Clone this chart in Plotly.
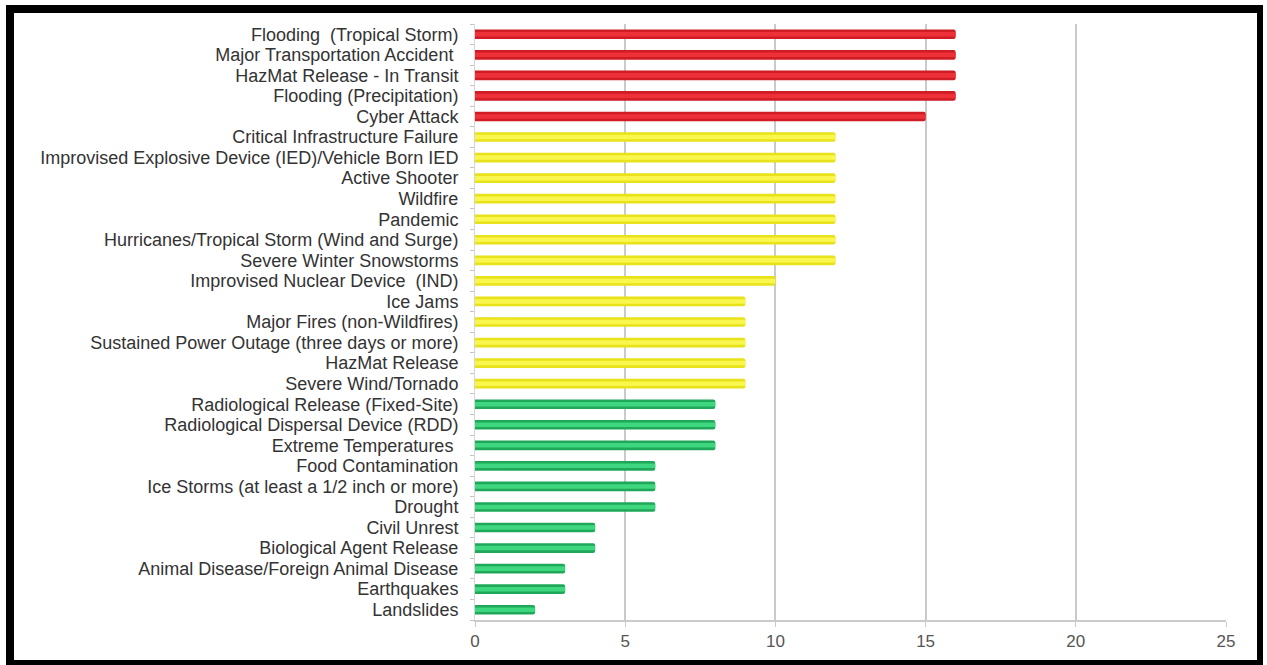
import plotly.graph_objects as go

categories = [
    "Flooding  (Tropical Storm)",
    "Major Transportation Accident ",
    "HazMat Release - In Transit",
    "Flooding (Precipitation)",
    "Cyber Attack",
    "Critical Infrastructure Failure",
    "Improvised Explosive Device (IED)/Vehicle Born IED",
    "Active Shooter",
    "Wildfire",
    "Pandemic",
    "Hurricanes/Tropical Storm (Wind and Surge)",
    "Severe Winter Snowstorms",
    "Improvised Nuclear Device  (IND)",
    "Ice Jams",
    "Major Fires (non-Wildfires)",
    "Sustained Power Outage (three days or more)",
    "HazMat Release",
    "Severe Wind/Tornado",
    "Radiological Release (Fixed-Site)",
    "Radiological Dispersal Device (RDD)",
    "Extreme Temperatures ",
    "Food Contamination",
    "Ice Storms (at least a 1/2 inch or more)",
    "Drought",
    "Civil Unrest",
    "Biological Agent Release",
    "Animal Disease/Foreign Animal Disease",
    "Earthquakes",
    "Landslides",
]
scores = [16, 16, 16, 16, 15, 12, 12, 12, 12, 12, 12, 12, 10, 9, 9, 9, 9, 9,
          8, 8, 8, 6, 6, 6, 4, 4, 3, 3, 2]
x_ticks = [0, 5, 10, 15, 20, 25]


def tier(v):
    if v >= 15:
        return "red"
    if v >= 9:
        return "yellow"
    return "green"


dark = {"red": "#d01c24", "yellow": "#e8e21a", "green": "#1fa85a"}
light = {"red": "#ee3038", "yellow": "#f9f64e", "green": "#3ed67e"}

W, H = 1267, 665
ML, MR, MT, MB = 475, 41, 24, 45
PW, PH = W - ML - MR, H - MT - MB

fig = go.Figure()
fig.add_trace(go.Bar(
    x=scores, y=categories, orientation="h", width=0.47,
    marker=dict(color=[dark[tier(v)] for v in scores], line=dict(width=0),
                cornerradius=2),
    hoverinfo="skip", showlegend=False,
))
fig.add_trace(go.Bar(
    x=scores, y=categories, orientation="h", width=0.22,
    marker=dict(color=[light[tier(v)] for v in scores], line=dict(width=0),
                cornerradius=1),
    hoverinfo="skip", showlegend=False,
))


def px_x(p):
    return (p - ML) / PW


def px_y(p):
    return 1 - (p - MT) / PH


shapes = []
for (x0, y0, x1, y1) in [(6, 5, 1263, 13), (6, 5, 14, 665), (1257, 5, 1263, 665), (6, 660, 1263, 665)]:
    shapes.append(dict(type="rect", xref="paper", yref="paper",
                       x0=px_x(x0), x1=px_x(x1), y0=px_y(y1), y1=px_y(y0),
                       fillcolor="black", line=dict(width=0), layer="above"))

fig.update_layout(
    width=W, height=H,
    margin=dict(l=ML, r=MR, t=MT, b=MB),
    barmode="overlay",
    paper_bgcolor="white", plot_bgcolor="white",
    font=dict(family="Liberation Sans, Arial, sans-serif", size=18, color="#333333"),
    shapes=shapes,
    xaxis=dict(range=[0, 25], tickvals=x_ticks, showgrid=True, gridcolor="#cacaca",
               gridwidth=1.5, showline=True, linecolor="#cacaca", linewidth=1.5,
               ticks="outside", ticklen=5, tickcolor="#cacaca", zeroline=False,
               tickfont=dict(size=17, color="#555555"), fixedrange=True),
    yaxis=dict(categoryorder="array", categoryarray=categories, autorange="reversed",
               tickmode="array", tickvals=categories, ticktext=categories,
               showgrid=False, showline=True, linecolor="#d6d6d6", linewidth=1,
               ticks="outside", ticklen=4, tickcolor="#c4c4c4", tickson="boundaries",
               ticklabelstandoff=12,
               tickfont=dict(size=18, color="#333333"), fixedrange=True),
)

fig.write_html("out.html")
